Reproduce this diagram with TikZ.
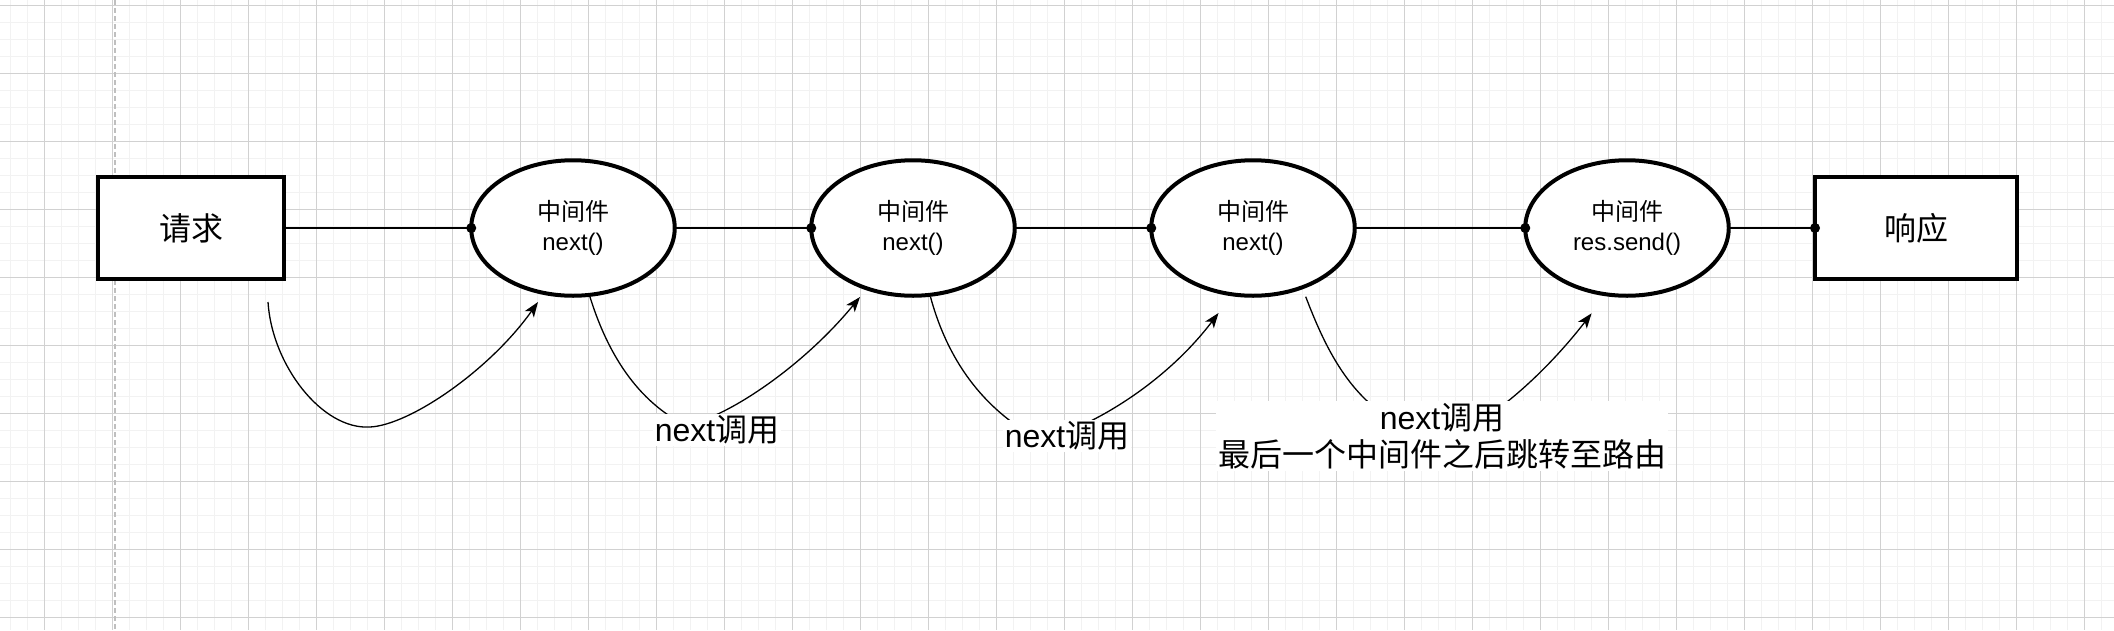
\documentclass[tikz,border=0pt]{standalone}
\usepackage{fontspec}
\setmainfont{Liberation Sans}
\newfontfamily\cjk{Noto Sans CJK SC}
\usetikzlibrary{shapes.geometric,arrows.meta,calc}

\begin{document}
\begin{tikzpicture}[x=1pt,y=-1pt,
  minorgrid/.style={draw=black!5,line width=1.6pt},
  majorgrid/.style={draw=black!18,line width=1pt},
  pagebreak/.style={draw=black!25,line width=2pt,dash pattern=on 5pt off 3pt},
  endbox/.style={rectangle,draw,line width=4.4pt,minimum height=101.5pt,inner sep=0pt,outer sep=0pt,fill=white,font=\fontsize{32}{38}\selectfont\cjk},
  mid/.style={ellipse,draw,line width=4pt,minimum width=203.5pt,minimum height=135.5pt,inner sep=0pt,outer sep=0pt,fill=white,align=center,font=\fontsize{24}{30}\selectfont},
  lab/.style={fill=white,inner xsep=2pt,inner ysep=2pt,align=center,font=\fontsize{32}{37}\selectfont},
  conn/.style={line width=1.3pt},
  arr/.style={conn,-{Stealth[length=15pt,width=11pt,inset=4pt]}},
  enddot/.style={circle,fill=black,inner sep=0pt,minimum size=10pt}
]
\useasboundingbox (0,0) rectangle (2114,630);
\fill[white] (0,0) rectangle (2114,630);
% grid
\foreach \k in {0,...,123} \draw[minorgrid] ({10.5+17*\k},0) -- ({10.5+17*\k},630);
\foreach \k in {0,...,36} \draw[minorgrid] (0,{5.3+17*\k}) -- (2114,{5.3+17*\k});
\foreach \k in {0,...,30} \draw[majorgrid] ({44.5+68*\k},0) -- ({44.5+68*\k},630);
\foreach \k in {0,...,9} \draw[majorgrid] (0,{5.3+68*\k}) -- (2114,{5.3+68*\k});
\draw[pagebreak] (115,0) -- (115,630);

% nodes
\node[endbox,minimum width=185.5pt] (req) at (191,228) {请求};
\node[mid] (e1) at (573,228) {{\cjk 中间件}\\next()};
\node[mid] (e2) at (913,228) {{\cjk 中间件}\\next()};
\node[mid] (e3) at (1253,228) {{\cjk 中间件}\\next()};
\node[mid] (e4) at (1627,228) {{\cjk 中间件}\\res.send()};
\node[endbox,minimum width=202pt] (resp) at (1916,228) {响应};

% straight connectors
\draw[conn] (req.east) -- (e1.west) node[enddot] {};
\draw[conn] (e1.east) -- (e2.west) node[enddot] {};
\draw[conn] (e2.east) -- (e3.west) node[enddot] {};
\draw[conn] (e3.east) -- (e4.west) node[enddot] {};
\draw[conn] (e4.east) -- (resp.west) node[enddot] {};

% curved connectors
\coordinate (s1) at ($(req)+(77,74)$);
\coordinate (t1) at ($(e1)+(-35,74)$);
\coordinate (s2) at ($(e1)+(17,69)$);
\coordinate (t2) at ($(e2)+(-53,69)$);
\coordinate (s3) at ($(e2)+(17.5,69)$);
\coordinate (t3) at ($(e3)+(-34.5,85)$);
\coordinate (s4) at ($(e3)+(52.7,68.7)$);
\coordinate (t4) at ($(e4)+(-35.4,85.3)$);

\draw[arr] (s1) .. controls (272,365) and (322,430) .. (370,427) .. controls (410,425) and (490,370) .. (t1);
\draw[arr] (s2) .. controls (605,345) and (632,398) .. (685,425) .. controls (722,420) and (800,370) .. (t2);
\draw[arr] (s3) .. controls (945,350) and (975,405) .. (1040,440) .. controls (1080,432) and (1160,390) .. (t3);
\draw[arr] (s4) .. controls (1330,360) and (1360,420) .. (1440,440) .. controls (1480,430) and (1540,380) .. (t4);

% labels
\node[lab] (l1) at (717,430) {next{\cjk 调用}};
\node[lab] (l2) at (1067,436) {next{\cjk 调用}};
\node[lab] (l3) at (1442,436) {next{\cjk 调用}\\{\cjk 最后一个中间件之后跳转至路由}};
\end{tikzpicture}
\end{document}
